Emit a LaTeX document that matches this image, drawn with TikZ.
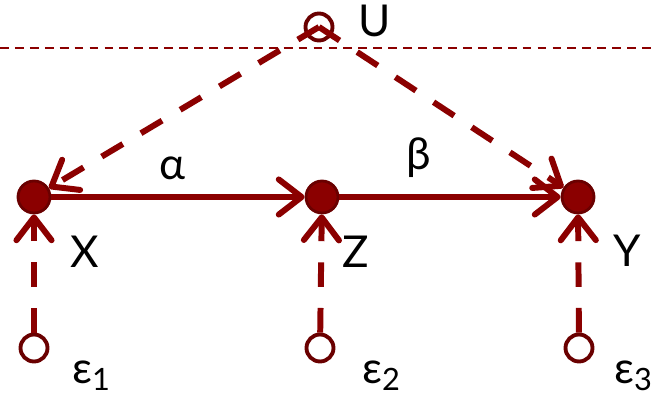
\documentclass[tikz,border=0pt]{standalone}
\usepackage{fontspec}
\setmainfont{Lato}
\usetikzlibrary{arrows.meta,positioning}
\definecolor{causalred}{HTML}{8B0000}
\definecolor{causaldark}{HTML}{6A0000}

\begin{document}
\begin{tikzpicture}[x=0.02cm, y=-0.02cm,
    every node/.style={font=\fontsize{25}{28}\selectfont, text=black},
    hollow/.style={circle, draw=causaldark, line width=2.2pt, fill=white, minimum size=0.54cm, inner sep=0pt},
    filled/.style={circle, draw=causaldark, line width=1.6pt, fill=causalred, minimum size=0.64cm, inner sep=0pt},
    edge/.style={line width=3.4pt, color=causalred, -{Straight Barb[length=13pt,width=20pt,round]}},
    latent/.style={edge, dash pattern=on 14pt off 12pt}]
    \useasboundingbox (0,0) rectangle (653,401);

    % Horizon line
    \coordinate (hl) at (0,48);
    \coordinate (hr) at (653,48);
    \draw[causalred, line width=1.1pt, dash pattern=on 5pt off 3.5pt] (hl) -- (hr);

    % Hidden confounder
    \node[hollow] (U) at (319,27) {};
    \node (Ulab) at (375,21) {U};

    % Observed variables
    \node[filled] (X) at (34,197) {};
    \node[filled] (Z) at (322,197) {};
    \node[filled] (Y) at (578,197) {};
    \node (Xlab) at (85,252) {X};
    \node (Zlab) at (356,252) {Z};
    \node (Ylab) at (627,251) {Y};

    % Noise terms
    \node[hollow] (e1) at (34,348) {};
    \node[hollow] (e2) at (320,348) {};
    \node[hollow] (e3) at (579,348) {};
    \node[anchor=west] (e1lab) at (66,376) {ε\textsubscript{1}};
    \node[anchor=west] (e2lab) at (356,376) {ε\textsubscript{2}};
    \node[anchor=west] (e3lab) at (608,376) {ε\textsubscript{3}};

    % Causal paths
    \draw[edge] (X) -- node[pos=0.48, above=5pt] (alpha) {α} (Z);
    \draw[edge] (Z) -- node[pos=0.36, above=6pt] (beta) {β} (Y);

    % Confounding paths
    \draw[latent] (U.center) -- (X);
    \draw[latent] (U.center) -- (Y);

    % Noise paths
    \draw[latent] (e1) -- (X);
    \draw[latent] (e2) -- (Z);
    \draw[latent] (e3) -- (Y);
\end{tikzpicture}
\end{document}
